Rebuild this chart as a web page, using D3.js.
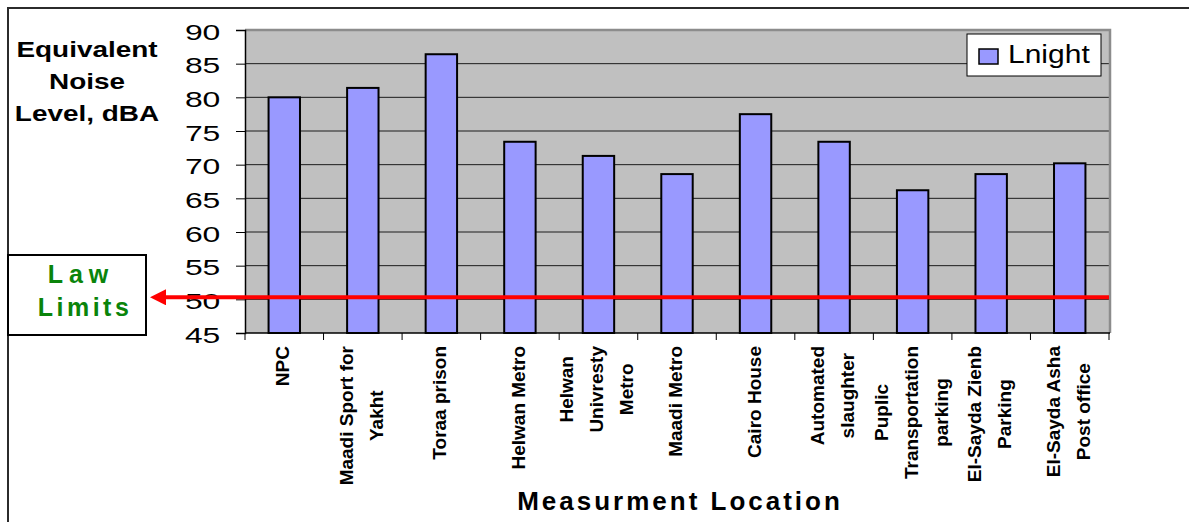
<!DOCTYPE html>
<html>
<head>
<meta charset="utf-8">
<script src="https://cdn.jsdelivr.net/npm/d3@7"></script>
<style>
  html, body { margin: 0; padding: 0; background: #ffffff; }
  svg { display: block; font-family: "Liberation Sans", Arial, sans-serif; }
</style>
</head>
<body>
<svg id="chart" width="1189" height="522"></svg>
<script>
// Night-time equivalent noise level at each measurement site
const categories = [
  "NPC",
  "Maadi Sport for\nYakht",
  "Toraa prison",
  "Helwan Metro",
  "Helwan\nUnivresty\nMetro",
  "Maadi Metro",
  "Cairo House",
  "Automated\nslaughter",
  "Puplic\nTransportation\nparking",
  "El-Sayda Zienb\nParking",
  "El-Sayda Asha\nPost office"
];
const lnight = [80.0, 81.4, 86.4, 73.4, 71.3, 68.6, 77.5, 73.4, 66.2, 68.6, 70.2];
const yTicks = [45, 50, 55, 60, 65, 70, 75, 80, 85, 90];
const seriesName = "Lnight";
const lawLimit = 50.3;
const yTitleLines = ["Equivalent", "Noise", "Level, dBA"];
const xTitle = "Measurment Location";
const lawLines = ["Law", "Limits"];

const svg = d3.select("#chart");

const plot = { left: 245, right: 1109, top: 30, bottom: 333 };

const x = d3.scaleBand()
  .domain(categories)
  .range([plot.left, plot.right])
  .paddingInner(0.6)
  .paddingOuter(0.3);

const y = d3.scaleLinear()
  .domain([45, 90])
  .range([plot.bottom, plot.top]);

// outer chart frame
svg.append("path")
  .attr("d", "M8,522 V8 H1189")
  .attr("fill", "none")
  .attr("stroke", "#2b2b2b")
  .attr("stroke-width", 2);

// plot area
svg.append("rect")
  .attr("x", plot.left).attr("y", plot.top)
  .attr("width", plot.right - plot.left).attr("height", plot.bottom - plot.top)
  .attr("fill", "#c0c0c0");

// horizontal gridlines
svg.append("g")
  .selectAll("line")
  .data(yTicks.filter(t => t > 45 && t < 90))
  .join("line")
  .attr("x1", plot.left).attr("x2", plot.right)
  .attr("y1", d => y(d)).attr("y2", d => y(d))
  .attr("stroke", "#1c1c1c")
  .attr("stroke-width", 1);

// plot border (top and right)
svg.append("path")
  .attr("d", `M${plot.left},${y(90)} H${plot.right + 1} V${plot.bottom}`)
  .attr("fill", "none")
  .attr("stroke", "#8c8c8c")
  .attr("stroke-width", 2.5);

// bars
svg.append("g")
  .selectAll("rect")
  .data(categories.map((c, i) => ({ c, v: lnight[i] })))
  .join("rect")
  .attr("x", d => x(d.c))
  .attr("y", d => y(d.v))
  .attr("width", x.bandwidth())
  .attr("height", d => y(45) - y(d.v))
  .attr("fill", "#9999ff")
  .attr("stroke", "#000000")
  .attr("stroke-width", 2);

// y axis
const yAxis = svg.append("g")
  .attr("transform", `translate(${plot.left},0)`)
  .call(d3.axisLeft(y).tickValues(yTicks).tickSize(9).tickPadding(8).tickFormat(d3.format("d")));
yAxis.select(".domain").attr("stroke", "#000").attr("stroke-width", 1.5);
yAxis.selectAll(".tick line").attr("stroke", "#000").attr("stroke-width", 1);
yAxis.selectAll(".tick text")
  .attr("font-family", "Liberation Sans, Arial, sans-serif")
  .attr("font-size", 22)
  .attr("fill", "#000")
  .attr("dy", "0.42em")
  .attr("transform", "scale(1.45,1)");

// x axis line with category boundary ticks
const xAxis = svg.append("g");
xAxis.append("line")
  .attr("x1", plot.left).attr("x2", plot.right + 1)
  .attr("y1", plot.bottom).attr("y2", plot.bottom)
  .attr("stroke", "#000").attr("stroke-width", 1.5);
const bounds = categories.map(c => x(c) - x.step() * x.paddingOuter()).concat([plot.right]);
xAxis.selectAll("line.tk")
  .data(bounds)
  .join("line")
  .attr("class", "tk")
  .attr("x1", d => d).attr("x2", d => d)
  .attr("y1", plot.bottom).attr("y2", plot.bottom + 7)
  .attr("stroke", "#000").attr("stroke-width", 1);

// rotated category labels, lines centred within each block
const labelTop = 346;
const lineGap = 30;
categories.forEach(c => {
  const lines = c.split("\n");
  const g = svg.append("g");
  const texts = lines.map(ln => g.append("text")
    .text(ln)
    .attr("font-size", 19)
    .attr("font-weight", "bold")
    .attr("text-anchor", "middle")
    .attr("fill", "#000"));
  const maxLen = d3.max(texts, t => t.node().getComputedTextLength());
  const cx = x(c) + x.bandwidth() / 2;
  texts.forEach((t, i) => {
    const bx = cx + (i - (lines.length - 1) / 2) * lineGap + 5;
    t.attr("transform", `translate(${bx},${labelTop + maxLen / 2}) rotate(-90)`);
  });
});

// axis titles
svg.append("text")
  .text(xTitle)
  .attr("font-size", 26)
  .attr("font-weight", "bold")
  .attr("letter-spacing", 3)
  .attr("text-anchor", "middle")
  .attr("transform", `translate(${(plot.left + plot.right) / 2 + 3},510)`);

svg.append("g")
  .selectAll("text")
  .data(yTitleLines)
  .join("text")
  .text(d => d)
  .attr("font-size", 22)
  .attr("font-weight", "bold")
  .attr("text-anchor", "middle")
  .attr("transform", (d, i) => `translate(87,${57 + i * 32}) scale(1.27,1)`);

// legend
const legend = svg.append("g");
legend.append("rect")
  .attr("x", 967).attr("y", 34).attr("width", 134).attr("height", 42)
  .attr("fill", "#fff").attr("stroke", "#000").attr("stroke-width", 1);
legend.append("rect")
  .attr("x", 979).attr("y", 49).attr("width", 19).attr("height", 15)
  .attr("fill", "#9999ff").attr("stroke", "#000").attr("stroke-width", 1.5);
legend.append("text")
  .text(seriesName)
  .attr("font-size", 25)
  .attr("transform", "translate(1008,63) scale(1.2,1)");

// law limit line with arrow pointing at the label box
svg.append("defs").append("marker")
  .attr("id", "arrowhead")
  .attr("viewBox", "0 0 10 10")
  .attr("refX", 0).attr("refY", 5)
  .attr("markerUnits", "userSpaceOnUse")
  .attr("markerWidth", 19).attr("markerHeight", 16)
  .attr("orient", "auto-start-reverse")
  .append("path")
  .attr("d", "M0,0 L10,5 L0,10 Z")
  .attr("fill", "#ff0000");

svg.append("line")
  .attr("x1", plot.right).attr("x2", 166)
  .attr("y1", y(lawLimit)).attr("y2", y(lawLimit))
  .attr("stroke", "#ff0000")
  .attr("stroke-width", 4)
  .attr("marker-end", "url(#arrowhead)");

const law = svg.append("g");
law.append("rect")
  .attr("x", 8).attr("y", 255).attr("width", 138).attr("height", 80)
  .attr("fill", "#fff").attr("stroke", "#000").attr("stroke-width", 2);
law.selectAll("text")
  .data(lawLines)
  .join("text")
  .text(d => d)
  .attr("font-size", 25)
  .attr("font-weight", "bold")
  .attr("fill", "#0a840a")
  .attr("letter-spacing", (d, i) => i === 0 ? 6 : 3.5)
  .attr("text-anchor", "middle")
  .attr("x", (d, i) => i === 0 ? 81 : 85)
  .attr("y", (d, i) => 283 + i * 33);
</script>
</body>
</html>
